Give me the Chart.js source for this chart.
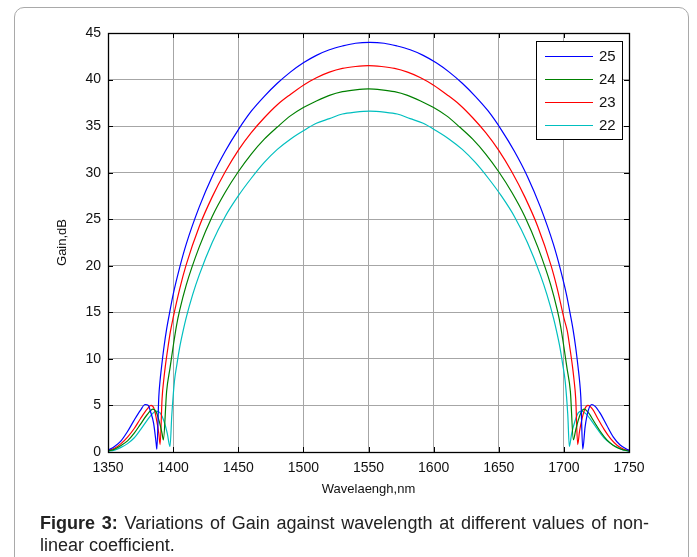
<!DOCTYPE html>
<html>
<head>
<meta charset="utf-8">
<script src="https://cdn.jsdelivr.net/npm/chart.js@4.4.1/dist/chart.umd.min.js"></script>
<style>
  html, body { margin: 0; padding: 0; background: #fff; }
  body { width: 697px; height: 557px; position: relative; overflow: hidden; font-family: "Liberation Sans", Arial, sans-serif; }
  #marco {
    position: absolute; left: 14px; top: 7px; width: 675px; height: 600px;
    border: 1.5px solid #a9a9a9; border-radius: 10px; box-sizing: border-box;
  }
  #grafica { position: absolute; left: 0; top: 0; }
  #pie {
    position: absolute; left: 40px; top: 512px; width: 609px;
    font-size: 18px; line-height: 22px; color: #222;
  }
  #pie .l1 { display: block; text-align: justify; text-align-last: justify; }
</style>
</head>
<body>
<div id="marco"></div>
<canvas id="grafica" width="697" height="557"></canvas>
<div id="pie"><span class="l1"><b>Figure 3:</b> Variations of Gain against wavelength at different values of non-</span>linear coefficient.</div>
<script>
// Curvas de ganancia para cada coeficiente no lineal (longitud de onda en nm, ganancia en dB)
const wl25 = [1350,1355,1360,1365,1370,1375,1378.5,1381,1382.5,1385,1387,1387.5,1389,1390,1391,1393,1395,1397.5,1400,1405,1410,1420,1430,1440,1450,1460,1470,1480,1490,1500,1510,1520,1530,1540,1551,1562,1572,1582,1592,1602,1612,1622,1632,1642,1652,1662,1672,1682,1692,1697,1702,1704.5,1707,1709,1711,1712,1713,1714.5,1716.3,1718.8,1721.4,1724,1727.7,1732.8,1738,1743.2,1748.3,1750];
const gain25 = [0.2,0.6,1.2,2.2,3.4,4.5,5.1,5.0,4.4,3.1,0.9,0.3,5.9,7.7,9.0,11.3,13.2,15.1,16.9,19.8,22.3,26.3,29.6,32.3,34.6,36.6,38.2,39.6,40.8,41.8,42.6,43.2,43.6,43.9,44.0,43.9,43.6,43.2,42.6,41.8,40.8,39.6,38.2,36.6,34.6,32.3,29.6,26.3,22.3,19.8,16.9,15.1,13.2,11.3,9.0,7.7,5.9,0.3,2.7,4.5,5.1,4.9,4.2,2.9,1.6,0.75,0.3,0.2];

const wl24 = [1350,1355,1360,1365,1370,1375,1380,1384.5,1387,1389.5,1391.5,1392.5,1395,1397.6,1400,1402.5,1405,1410,1420,1430,1440,1450,1460,1470,1480,1490,1500,1510,1520,1530,1540,1550,1560,1570,1580,1590,1600,1610,1620,1630,1640,1650,1660,1670,1680,1690,1695,1697.5,1700,1702.4,1705,1707.3,1709,1711,1713,1715.5,1719,1723,1728,1733,1738,1744,1750];
const gain24 = [0.1,0.3,0.7,1.2,2.0,3.0,4.0,4.6,4.3,3.2,2.0,1.3,6.5,9.0,11.3,13.5,15.2,17.9,22.0,25.3,27.9,30.1,32.0,33.6,34.9,36.1,37.0,37.7,38.3,38.7,38.9,39.0,38.9,38.7,38.3,37.7,37.0,36.1,34.9,33.6,32.0,30.1,27.9,25.3,22.0,17.9,15.2,13.5,11.3,9.0,6.5,1.3,2.3,3.4,4.2,4.6,4.2,3.3,2.2,1.3,0.7,0.3,0.1];

const wl23 = [1350,1355,1360,1365,1370,1375,1380,1383,1385.5,1387.5,1389,1390,1391.5,1393,1394,1396,1398,1400,1405,1410,1420,1430,1440,1450,1460,1470,1480,1490,1500,1510,1520,1530,1540,1550,1560,1570,1580,1590,1600,1610,1620,1630,1640,1650,1660,1670,1680,1690,1695,1700,1702.6,1704.6,1706.6,1707.6,1709.1,1710.6,1712,1714,1716,1718.5,1722,1726,1731,1736,1741,1746,1750];
const gain23 = [0.15,0.4,0.9,1.6,2.5,3.6,4.6,5.0,4.6,3.3,2.0,0.8,5.7,8.0,9.2,11.2,13.0,14.4,17.5,20.1,24.2,27.4,30.1,32.4,34.3,35.9,37.3,38.4,39.4,40.2,40.8,41.2,41.4,41.5,41.4,41.2,40.8,40.2,39.4,38.4,37.3,35.9,34.3,32.4,30.1,27.4,24.2,20.1,17.5,14.4,13.0,11.2,9.2,8.0,5.7,0.8,2.2,3.6,4.6,5.0,4.6,3.6,2.4,1.4,0.7,0.3,0.15];

const wl22 = [1350,1355,1360,1365,1370,1375,1380,1384,1387,1390,1393,1395.5,1397.6,1399,1401,1403,1405,1407.5,1410,1415,1420,1430,1440,1450,1460,1470,1480,1490,1500,1510,1520,1530,1540,1551,1562,1572,1582,1592,1602,1612,1622,1632,1642,1652,1662,1672,1682,1687,1692,1694.5,1697,1699,1701,1703,1704.2,1706,1708.5,1711,1713.5,1717,1721,1726,1731,1736,1741,1746,1750];
const gain22 = [0.1,0.2,0.5,0.9,1.5,2.4,3.4,4.1,4.4,4.2,3.3,2.0,0.6,4.0,7.6,9.5,11.2,12.9,14.4,16.9,19.0,22.5,25.3,27.5,29.4,31.1,32.5,33.6,34.5,35.3,35.8,36.3,36.5,36.6,36.5,36.3,35.8,35.3,34.5,33.6,32.5,31.1,29.4,27.5,25.3,22.5,19.0,16.9,14.4,12.9,11.2,9.5,7.6,4.0,0.6,2.0,3.3,4.2,4.4,4.1,3.4,2.4,1.5,0.9,0.5,0.2,0.1];

const etiquetas = ["25", "24", "23", "22"];
const colores = ["#0000ff", "#008000", "#ff0000", "#00bfbf"];
const xTicks = [1350, 1400, 1450, 1500, 1550, 1600, 1650, 1700, 1750];
const yTicks = [0, 5, 10, 15, 20, 25, 30, 35, 40, 45];

const series = [[wl25, gain25], [wl24, gain24], [wl23, gain23], [wl22, gain22]];

function puntos(wl, gain) {
  return wl.map((x, i) => ({ x: x, y: gain[i] }));
}

const datasets = series.map(([wl, gain], i) => ({
  label: etiquetas[i],
  data: puntos(wl, gain),
  borderColor: colores[i],
  borderWidth: 1.2,
  pointRadius: 0,
  fill: false,
  cubicInterpolationMode: "monotone"
}));

const fuente = "'Liberation Sans', Arial, sans-serif";

// Caja alrededor del area, marcas hacia adentro en los cuatro lados y leyenda
const cajaMatlab = {
  id: "cajaMatlab",
  afterDatasetsDraw(chart) {
    const { ctx, chartArea: a, scales } = chart;
    ctx.save();
    ctx.strokeStyle = "#000";
    ctx.lineWidth = 1;
    const len = 5;
    ctx.beginPath();
    xTicks.forEach(v => {
      const px = Math.round(scales.x.getPixelForValue(v)) + 0.5;
      ctx.moveTo(px, a.bottom); ctx.lineTo(px, a.bottom - len);
      ctx.moveTo(px, a.top); ctx.lineTo(px, a.top + len);
    });
    yTicks.forEach(v => {
      const py = Math.round(scales.y.getPixelForValue(v)) + 0.5;
      ctx.moveTo(a.left, py); ctx.lineTo(a.left + len, py);
      ctx.moveTo(a.right, py); ctx.lineTo(a.right - len, py);
    });
    ctx.stroke();
    ctx.lineWidth = 1.3;
    ctx.strokeRect(Math.round(a.left) + 0.5, Math.round(a.top) + 0.5, Math.round(a.right - a.left), Math.round(a.bottom - a.top));

    // leyenda
    const lx = 536, ly = 41, lw = 86, lh = 98;
    ctx.fillStyle = "#fff";
    ctx.fillRect(lx, ly, lw, lh);
    ctx.lineWidth = 1;
    ctx.strokeStyle = "#000";
    ctx.strokeRect(lx + 0.5, ly + 0.5, lw, lh);
    ctx.font = "15px " + fuente;
    ctx.textBaseline = "middle";
    chart.data.datasets.forEach((ds, i) => {
      const y = ly + 15 + i * 23;
      ctx.strokeStyle = ds.borderColor;
      ctx.lineWidth = 1.2;
      ctx.beginPath();
      ctx.moveTo(lx + 9, y + 0.5);
      ctx.lineTo(lx + 57, y + 0.5);
      ctx.stroke();
      ctx.fillStyle = "#111";
      ctx.fillText(ds.label, lx + 63, y + 1);
    });
    ctx.restore();
  }
};

new Chart(document.getElementById("grafica"), {
  type: "line",
  data: { datasets: datasets },
  plugins: [cajaMatlab],
  options: {
    responsive: false,
    animation: false,
    layout: { padding: { left: 0, top: 33, right: 68, bottom: 60 } },
    plugins: { legend: { display: false }, tooltip: { enabled: false } },
    scales: {
      x: {
        type: "linear",
        min: 1350,
        max: 1750,
        afterBuildTicks: (s) => { s.ticks = xTicks.map(v => ({ value: v })); },
        afterFit: (s) => { s.height = 45; },
        ticks: { color: "#111", padding: 8, font: { family: fuente, size: 14 }, callback: (v) => String(v) },
        grid: { color: "#a6a6a6", lineWidth: 1, drawTicks: false },
        border: { display: false },
        title: { display: true, text: "Wavelaengh,nm", color: "#111", padding: 0, font: { family: fuente, size: 13 } }
      },
      y: {
        min: 0,
        max: 45,
        afterBuildTicks: (s) => { s.ticks = yTicks.map(v => ({ value: v })); },
        afterFit: (s) => { s.width = 108; },
        ticks: { color: "#111", padding: 7, font: { family: fuente, size: 14 }, callback: (v) => String(v) },
        grid: { color: "#a6a6a6", lineWidth: 1, drawTicks: false },
        border: { display: false },
        title: { display: true, text: "Gain,dB", color: "#111", padding: { top: 55, bottom: 0 }, font: { family: fuente, size: 13 } }
      }
    }
  }
});
</script>
</body>
</html>
